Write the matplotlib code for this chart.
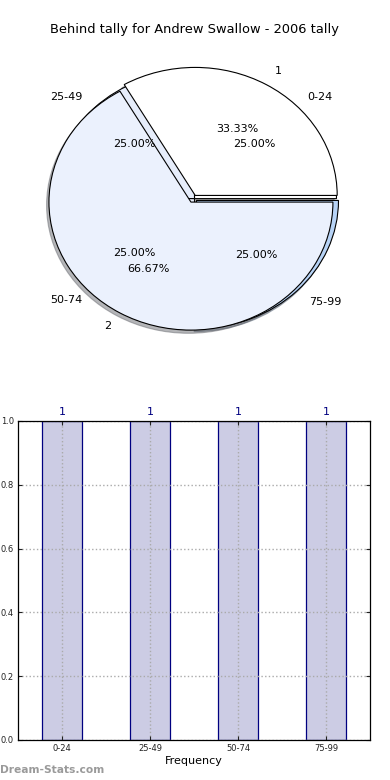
import matplotlib
matplotlib.use("Agg")
import matplotlib.pyplot as plt

# ---- data ----
title = "Behind tally for Andrew Swallow - 2006 tally"
categories = ['0-24', '25-49', '50-74', '75-99']
range_counts = [1, 1, 1, 1]
rank_labels = ['1', '2']
rank_counts = [1, 2]
yticks = [0.0, 0.2, 0.4, 0.6, 0.8, 1.0]
xlabel = "Frequency"
watermark = "Dream-Stats.com"

pie1_colors = ['#ffffff', '#e6edfb', '#e9effc', '#b7d3f6']
pie2_colors = ['#ffffff', '#ebf1fd']

fig = plt.figure(figsize=(3.9, 7.8), dpi=100)
fig.text(0.5, 1 - 30 / 780, title, ha='center', va='center', fontsize=9.4)

# ---- pie panel ----
shadow_props = dict(ox=-0.012, oy=-0.018, shade=0.55)
axp = fig.add_axes([0.0072, 0.532, 0.983, 0.4267])
w1, t1, a1 = axp.pie(range_counts, labels=categories, colors=pie1_colors,
                     autopct='%.2f%%', pctdistance=0.6, labeldistance=1.12,
                     explode=[0, 0, 0, 0.02], shadow=shadow_props, startangle=0,
                     center=(0, 0), radius=1.0,
                     wedgeprops=dict(edgecolor='black', linewidth=0.8),
                     textprops=dict(fontsize=8))
w2, t2, a2 = axp.pie(rank_counts, labels=rank_labels, colors=pie2_colors,
                     autopct='%.2f%%', pctdistance=0.6, labeldistance=1.12,
                     explode=[0.06, 0], shadow=shadow_props, startangle=0,
                     center=(-0.025, -0.027), radius=1.0,
                     wedgeprops=dict(edgecolor='black', linewidth=0.8),
                     textprops=dict(fontsize=8))
axp.set_aspect('auto')
axp.set_xlim(-1.35, 1.35)
axp.set_ylim(-1.3, 1.3)
axp.axis('off')

# ---- bar panel ----
axb = fig.add_axes([0.046, 0.0513, 0.9026, 0.409])
xs = list(range(len(categories)))
axb.bar(xs, range_counts, width=0.45, color='#ccccE4', edgecolor='#000080',
        linewidth=0.9, zorder=2)
for x, v in zip(xs, range_counts):
    axb.text(x, v + 0.012, str(v), ha='center', va='bottom', color='#000080',
             fontsize=8, clip_on=False)
axb.set_xlim(-0.5, len(categories) - 0.5)
axb.set_ylim(0, 1.0)
axb.set_xticks(xs)
axb.set_xticklabels(categories, fontsize=6)
axb.set_yticks(yticks)
axb.set_yticklabels([f'{v:.1f}' for v in yticks], fontsize=6)
axb.tick_params(direction='in', top=True, right=True, length=3, pad=3,
                colors='#222222')
axb.set_axisbelow(False)
axb.grid(True, linestyle=':', color='#aaaaaa', linewidth=1.0)
axb.set_xlabel(xlabel, fontsize=8, labelpad=2)
for s in axb.spines.values():
    s.set_linewidth(0.9)
    s.set_zorder(5)

fig.text(0.0, 10 / 780, watermark, ha='left', va='center', fontsize=7.7,
         color='#9a9a9a', fontweight='bold')

fig.savefig('out.png', dpi=100)
